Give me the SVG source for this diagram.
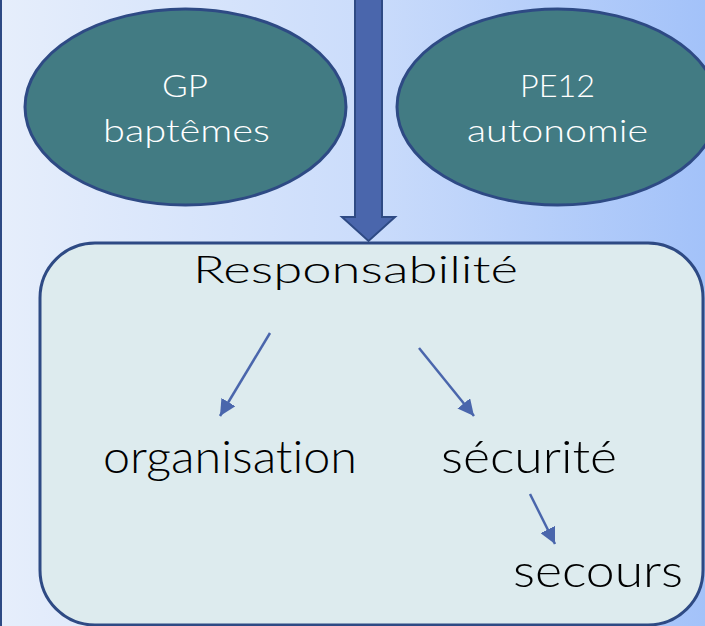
<svg xmlns="http://www.w3.org/2000/svg" width="705" height="626" viewBox="0 0 705 626">
<defs>
<linearGradient id="bg" x1="0" y1="0" x2="1" y2="0">
<stop offset="0" stop-color="#E6EEFB"/>
<stop offset="0.5" stop-color="#CCDDFB"/>
<stop offset="1" stop-color="#A3C2F9"/>
</linearGradient>
<marker id="ah" viewBox="0 0 10 10" refX="10" refY="5" markerWidth="6.5" markerHeight="6.5" orient="auto" markerUnits="strokeWidth">
<path d="M0,0 L10,5 L0,10 z" fill="#4A66AC"/>
</marker>
<style>
.oval{fill:#427B83;stroke:#2E4A84;stroke-width:3}
.wt{fill:#FFFFFF;font-family:Lato,"Liberation Sans",Arial,sans-serif;font-weight:300;font-size:32px;text-anchor:middle;font-variant-ligatures:none}
.bt{fill:#000000;font-family:Lato,"Liberation Sans",Arial,sans-serif;font-weight:300;text-anchor:middle;font-variant-ligatures:none}
.t1{font-size:37px}
.t2{font-size:45px}
.conn{stroke:#4A66AC;stroke-width:2.5;fill:none;marker-end:url(#ah)}
</style>
</defs>
<rect x="0" y="0" width="705" height="626" fill="url(#bg)"/>
<line x1="1" y1="0" x2="1" y2="626" stroke="#2E4A84" stroke-width="2"/>
<g id="gp">
<ellipse class="oval" cx="185.5" cy="107" rx="160.5" ry="98"/>
<text class="wt" x="185" y="97" textLength="46" lengthAdjust="spacingAndGlyphs">GP</text>
<text class="wt" x="186.5" y="142" textLength="167" lengthAdjust="spacingAndGlyphs">baptêmes</text>
</g>
<g id="pe12">
<ellipse class="oval" cx="557.5" cy="107" rx="160.5" ry="98"/>
<text class="wt" x="557.5" y="97" textLength="75" lengthAdjust="spacingAndGlyphs">PE12</text>
<text class="wt" x="557.5" y="142" textLength="181" lengthAdjust="spacingAndGlyphs">autonomie</text>
</g>
<g id="big-arrow">
<polygon points="355,-5 382,-5 382,217 395,217 368.5,241 342,217 355,217" fill="#4A66AC" stroke="#2E4A84" stroke-width="2"/>
</g>
<g id="responsabilite">
<rect x="40" y="243" width="663" height="382" rx="55" ry="55" fill="#DDEBEE" stroke="#2E4A84" stroke-width="3"/>
<text class="bt t1" x="355.5" y="283" textLength="325" lengthAdjust="spacingAndGlyphs">Responsabilité</text>
</g>
<g id="organisation">
<text class="bt t2" x="230" y="473" textLength="254" lengthAdjust="spacingAndGlyphs">organisation</text>
</g>
<g id="securite">
<text class="bt t2" x="529" y="473" textLength="176" lengthAdjust="spacingAndGlyphs">sécurité</text>
</g>
<g id="secours">
<text class="bt t2" x="598" y="587" textLength="170" lengthAdjust="spacingAndGlyphs">secours</text>
</g>
<g id="connectors">
<line class="conn" x1="270" y1="333" x2="220" y2="416"/>
<line class="conn" x1="419" y1="348" x2="474" y2="416"/>
<line class="conn" x1="530" y1="494" x2="555" y2="544"/>
</g>
</svg>
